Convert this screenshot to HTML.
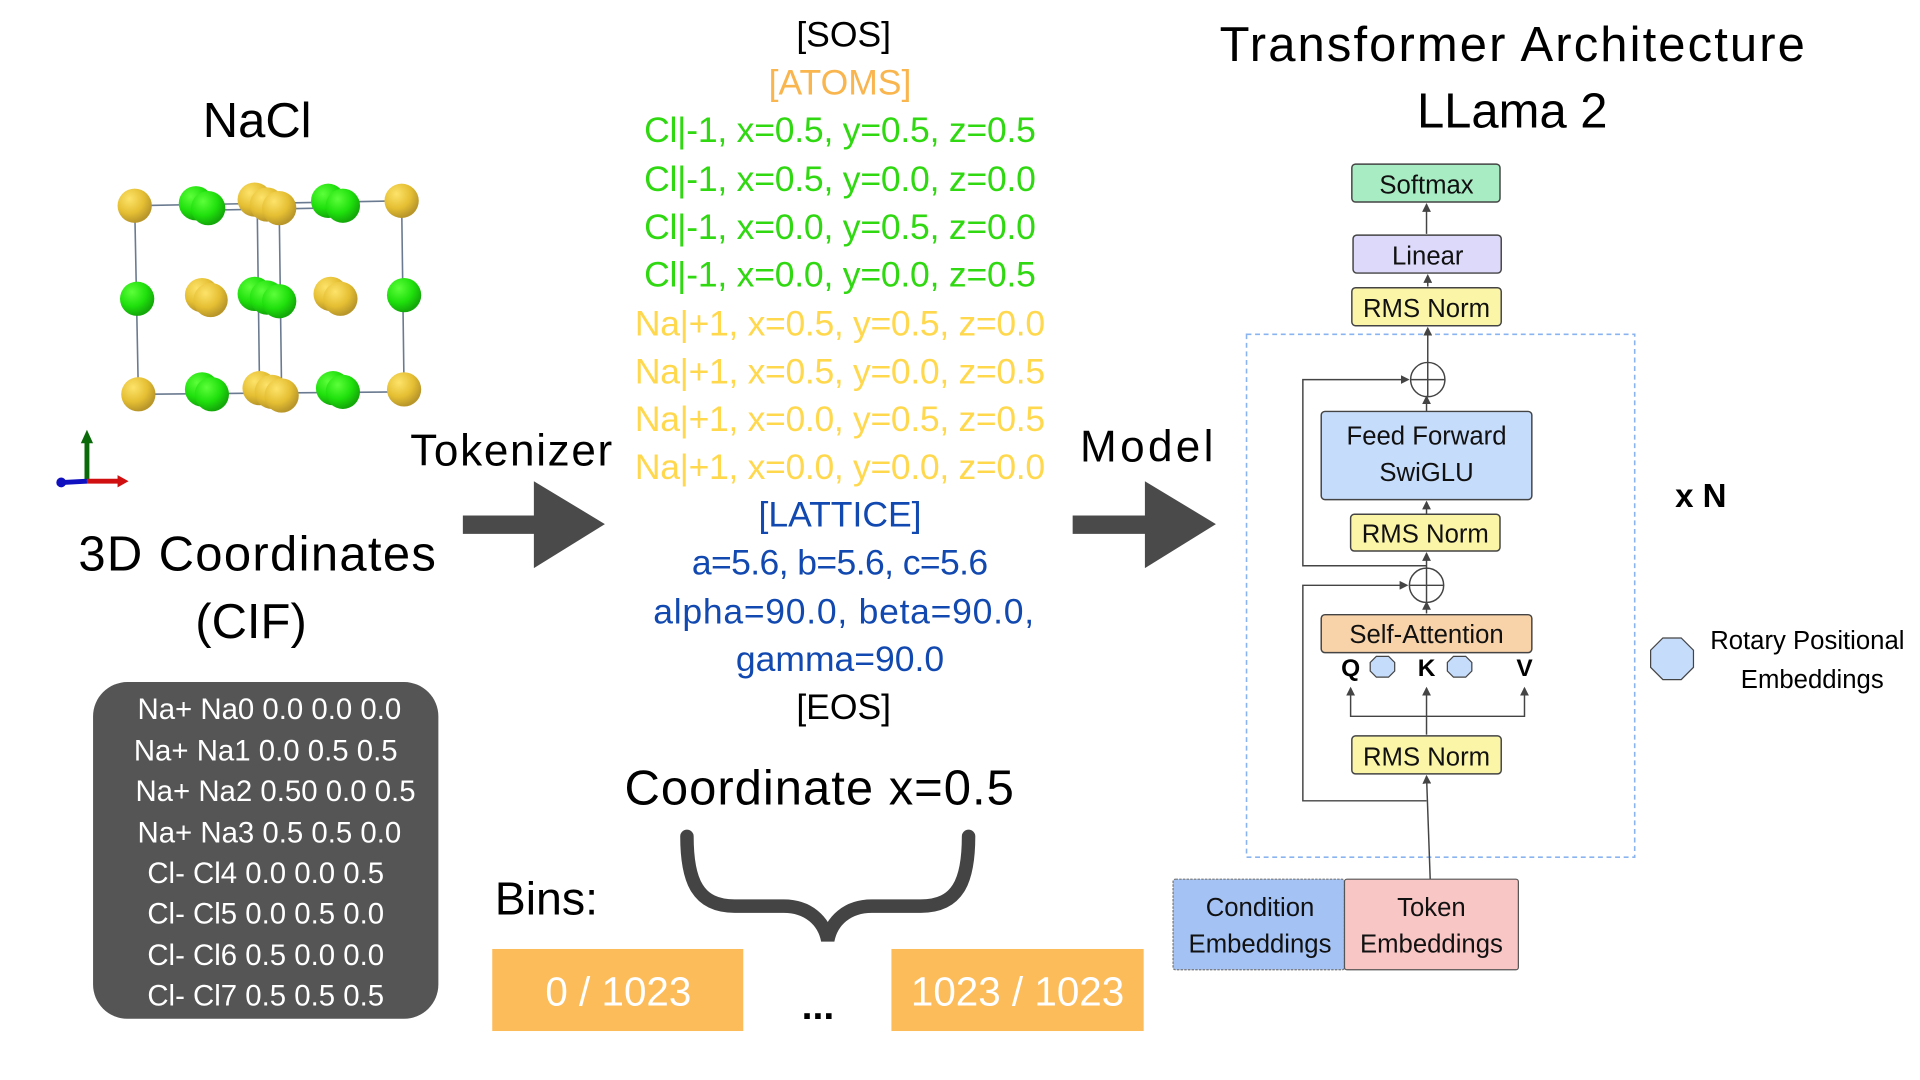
<!DOCTYPE html>
<html><head><meta charset="utf-8"><style>
html,body{margin:0;padding:0;background:#fff;width:1920px;height:1080px;overflow:hidden}
svg{display:block}
text{font-family:"Liberation Sans",sans-serif}
</style></head><body>
<svg width="1920" height="1080" viewBox="0 0 1568 882" xmlns="http://www.w3.org/2000/svg">
<defs>
<radialGradient id="y" cx="35%" cy="30%" r="70%"><stop offset="0" stop-color="#fde36a"/><stop offset="0.6" stop-color="#e5bf33"/><stop offset="1" stop-color="#b8962a"/></radialGradient>
<radialGradient id="g" cx="35%" cy="30%" r="70%"><stop offset="0" stop-color="#5cff3a"/><stop offset="0.6" stop-color="#1fe00c"/><stop offset="1" stop-color="#14a80a"/></radialGradient>
<marker id="a" markerWidth="6" markerHeight="6" refX="5" refY="3" orient="auto"><path d="M0,0 L6,3 L0,6 z" fill="#444"/></marker>
</defs>

<text x="210" y="112" font-size="40" text-anchor="middle">NaCl</text>
<g stroke="#6a7a90" stroke-width="1.3" fill="none">
<path d="M110,168 L328,164 L330,320 L113,322 Z"/>
<path d="M210,165 L212,320 M228,170 L230,322"/>
<path d="M150,172 L260,170"/>
</g>
<g>
<circle cx="110" cy="168" r="14" fill="url(#y)"/>
<circle cx="160" cy="166" r="14" fill="url(#g)"/><circle cx="170" cy="170" r="14" fill="url(#g)"/>
<circle cx="208" cy="163" r="14" fill="url(#y)"/><circle cx="218" cy="167" r="14" fill="url(#y)"/><circle cx="228" cy="170" r="14" fill="url(#y)"/>
<circle cx="268" cy="164" r="14" fill="url(#g)"/><circle cx="280" cy="168" r="14" fill="url(#g)"/>
<circle cx="328" cy="164" r="14" fill="url(#y)"/>
<circle cx="112" cy="244" r="14" fill="url(#g)"/>
<circle cx="165" cy="241" r="14" fill="url(#y)"/><circle cx="172" cy="245" r="14" fill="url(#y)"/>
<circle cx="208" cy="240" r="14" fill="url(#g)"/><circle cx="218" cy="243" r="14" fill="url(#g)"/><circle cx="228" cy="246" r="14" fill="url(#g)"/>
<circle cx="270" cy="240" r="14" fill="url(#y)"/><circle cx="278" cy="244" r="14" fill="url(#y)"/>
<circle cx="330" cy="241" r="14" fill="url(#g)"/>
<circle cx="113" cy="322" r="14" fill="url(#y)"/>
<circle cx="165" cy="318" r="14" fill="url(#g)"/><circle cx="173" cy="322" r="14" fill="url(#g)"/>
<circle cx="212" cy="317" r="14" fill="url(#y)"/><circle cx="222" cy="320" r="14" fill="url(#y)"/><circle cx="230" cy="323" r="14" fill="url(#y)"/>
<circle cx="272" cy="317" r="14" fill="url(#g)"/><circle cx="280" cy="320" r="14" fill="url(#g)"/>
<circle cx="330" cy="318" r="14" fill="url(#y)"/>
</g>
<g stroke-width="4">
<line x1="71" y1="392" x2="71" y2="360" stroke="#0a6a0a"/><path d="M66,362 L71,351 L76,362 Z" fill="#0a6a0a"/>
<line x1="71" y1="393" x2="98" y2="393" stroke="#d01010"/><path d="M96,388 L105,393 L96,398 Z" fill="#d01010"/>
<line x1="71" y1="393" x2="52" y2="394" stroke="#1010c0"/><circle cx="50" cy="394" r="4" fill="#1010c0"/>
</g>
<text x="210" y="466" font-size="40" text-anchor="middle" textLength="292">3D Coordinates</text>
<text x="205" y="521" font-size="40" text-anchor="middle">(CIF)</text>

<rect x="76" y="557" width="282" height="275" rx="28" fill="#555"/>
<g fill="#fff" font-size="24" text-anchor="middle">
<text x="220" y="587">Na+ Na0 0.0 0.0 0.0</text>
<text x="217" y="621">Na+ Na1  0.0 0.5 0.5</text>
<text x="225" y="654">Na+ Na2 0.50 0.0 0.5</text>
<text x="220" y="688">Na+ Na3 0.5 0.5 0.0</text>
<text x="217" y="721">Cl- Cl4 0.0 0.0 0.5</text>
<text x="217" y="754">Cl- Cl5 0.0 0.5 0.0</text>
<text x="217" y="788">Cl- Cl6 0.5 0.0 0.0</text>
<text x="217" y="821">Cl- Cl7 0.5 0.5 0.5</text>
</g>

<text x="335" y="380" font-size="36" textLength="165">Tokenizer</text>
<rect x="378" y="421" width="62" height="15" fill="#4a4a4a"/>
<path d="M436,393 L494,428 L436,464 Z" fill="#4a4a4a"/>

<g font-size="29" text-anchor="middle">
<text x="689" y="38" fill="#000">[SOS]</text>
<text x="686" y="77" fill="#f9b54e">[ATOMS]</text>
<g fill="#2fd810">
<text x="686" y="116" textLength="320">Cl|-1, x=0.5, y=0.5, z=0.5</text>
<text x="686" y="156" textLength="320">Cl|-1, x=0.5, y=0.0, z=0.0</text>
<text x="686" y="195" textLength="320">Cl|-1, x=0.0, y=0.5, z=0.0</text>
<text x="686" y="234" textLength="320">Cl|-1, x=0.0, y=0.0, z=0.5</text>
</g>
<g fill="#ffd84e">
<text x="686" y="274" textLength="335">Na|+1, x=0.5, y=0.5, z=0.0</text>
<text x="686" y="313" textLength="335">Na|+1, x=0.5, y=0.0, z=0.5</text>
<text x="686" y="352" textLength="335">Na|+1, x=0.0, y=0.5, z=0.5</text>
<text x="686" y="391" textLength="335">Na|+1, x=0.0, y=0.0, z=0.0</text>
</g>
<g fill="#1249b0">
<text x="686" y="430">[LATTICE]</text>
<text x="686" y="469" textLength="242">a=5.6, b=5.6, c=5.6</text>
<text x="689" y="509" textLength="311">alpha=90.0, beta=90.0,</text>
<text x="686" y="548">gamma=90.0</text>
</g>
<text x="689" y="587" fill="#000">[EOS]</text>
</g>

<text x="669" y="657" font-size="40" text-anchor="middle" textLength="318">Coordinate x=0.5</text>
<path d="M561,683 C561,720 570,740 600,740 L640,740 C660,740 673,752 676,768 C679,752 692,740 712,740 L752,740 C782,740 791,720 791,683" fill="none" stroke="#444" stroke-width="11" stroke-linecap="round"/>
<text x="404" y="747" font-size="38">Bins:</text>
<rect x="402" y="775" width="205" height="67" fill="#fdbc5a"/>
<rect x="728" y="775" width="206" height="67" fill="#fdbc5a"/>
<text x="505" y="821" font-size="33" fill="#fff" text-anchor="middle">0 / 1023</text>
<text x="831" y="821" font-size="33" fill="#fff" text-anchor="middle">1023 / 1023</text>
<text x="668" y="832" font-size="32" text-anchor="middle" font-weight="bold">...</text>

<text x="882" y="377" font-size="36" textLength="109">Model</text>
<rect x="876" y="421" width="62" height="15" fill="#4a4a4a"/>
<path d="M935,393 L993,428 L935,464 Z" fill="#4a4a4a"/>

<text x="1235" y="50" font-size="40" text-anchor="middle" textLength="478">Transformer Architecture</text>
<text x="1235" y="104" font-size="40" text-anchor="middle">LLama 2</text>

<rect x="1018" y="273" width="317" height="427" fill="none" stroke="#8ab4f0" stroke-width="1.3" stroke-dasharray="4,3"/>
<g stroke="#444" stroke-width="1.2" fill="none">
<line x1="1168" y1="718" x2="1165" y2="634" marker-end="url(#a)"/>
<line x1="1165" y1="600" x2="1165" y2="562" marker-end="url(#a)"/>
<path d="M1165,585 L1103,585 L1103,562" marker-end="url(#a)"/>
<path d="M1165,585 L1245,585 L1245,562" marker-end="url(#a)"/>
<line x1="1165" y1="501" x2="1165" y2="492" marker-end="url(#a)"/>
<line x1="1165" y1="464" x2="1165" y2="452" marker-end="url(#a)"/>
<line x1="1165" y1="420" x2="1165" y2="410" marker-end="url(#a)"/>
<line x1="1165" y1="336" x2="1165" y2="324" marker-end="url(#a)"/>
<line x1="1166" y1="296" x2="1166" y2="268" marker-end="url(#a)"/>
<line x1="1166" y1="234" x2="1166" y2="225" marker-end="url(#a)"/>
<line x1="1165" y1="191" x2="1165" y2="167" marker-end="url(#a)"/>
<path d="M1165,654 L1064,654 L1064,478 L1149,478" marker-end="url(#a)"/>
<path d="M1165,462 L1064,462 L1064,310 L1150,310" marker-end="url(#a)"/>
<circle cx="1166" cy="310" r="14"/><path d="M1152,310 H1180 M1166,296 V324"/>
<circle cx="1165" cy="478" r="14"/><path d="M1151,478 H1179 M1165,464 V492"/>
</g>
<g stroke="#444" stroke-width="1.2">
<rect x="1104" y="134" width="121" height="31" rx="3" fill="#a8ecc4"/>
<rect x="1105" y="192" width="121" height="31" rx="3" fill="#ddd9fb"/>
<rect x="1104" y="235" width="122" height="31" rx="3" fill="#fbf5a8"/>
<rect x="1079" y="336" width="172" height="72" rx="3" fill="#c6dcfb"/>
<rect x="1103" y="420" width="122" height="30" rx="3" fill="#fbf5a8"/>
<rect x="1079" y="502" width="172" height="31" rx="3" fill="#f8d2a8"/>
<rect x="1104" y="601" width="122" height="31" rx="3" fill="#fbf5a8"/>
</g>
<g font-size="21" text-anchor="middle" fill="#111">
<text x="1165" y="158">Softmax</text>
<text x="1166" y="216">Linear</text>
<text x="1165" y="259">RMS Norm</text>
<text x="1165" y="363">Feed Forward</text>
<text x="1165" y="393">SwiGLU</text>
<text x="1164" y="443">RMS Norm</text>
<text x="1165" y="525">Self-Attention</text>
<text x="1165" y="625">RMS Norm</text>
</g>
<g font-size="20" font-weight="bold" text-anchor="middle">
<text x="1103" y="552">Q</text><text x="1165" y="552">K</text><text x="1245" y="552">V</text>
</g>
<g fill="#c6dcfb" stroke="#444" stroke-width="1">
<path d="M1124,536 L1134,536 L1139,541 L1139,548 L1134,553 L1124,553 L1119,548 L1119,541 Z"/>
<path d="M1187,536 L1197,536 L1202,541 L1202,548 L1197,553 L1187,553 L1182,548 L1182,541 Z"/>
<path d="M1358,521 L1373,521 L1383,531 L1383,545 L1373,555 L1358,555 L1348,545 L1348,531 Z"/>
</g>
<text x="1368" y="414" font-size="27" font-weight="bold">x N</text>
<text x="1476" y="530" font-size="21" text-anchor="middle">Rotary Positional</text>
<text x="1480" y="562" font-size="21" text-anchor="middle">Embeddings</text>

<rect x="958" y="718" width="140" height="74" rx="2" fill="#a4c2f4" stroke="#777" stroke-width="1" stroke-dasharray="2,1"/>
<rect x="1098" y="718" width="142" height="74" rx="2" fill="#f9c6c6" stroke="#555" stroke-width="1"/>
<g font-size="21" text-anchor="middle" fill="#111">
<text x="1029" y="748">Condition</text><text x="1029" y="778">Embeddings</text>
<text x="1169" y="748">Token</text><text x="1169" y="778">Embeddings</text>
</g>
</svg>
</body></html>
